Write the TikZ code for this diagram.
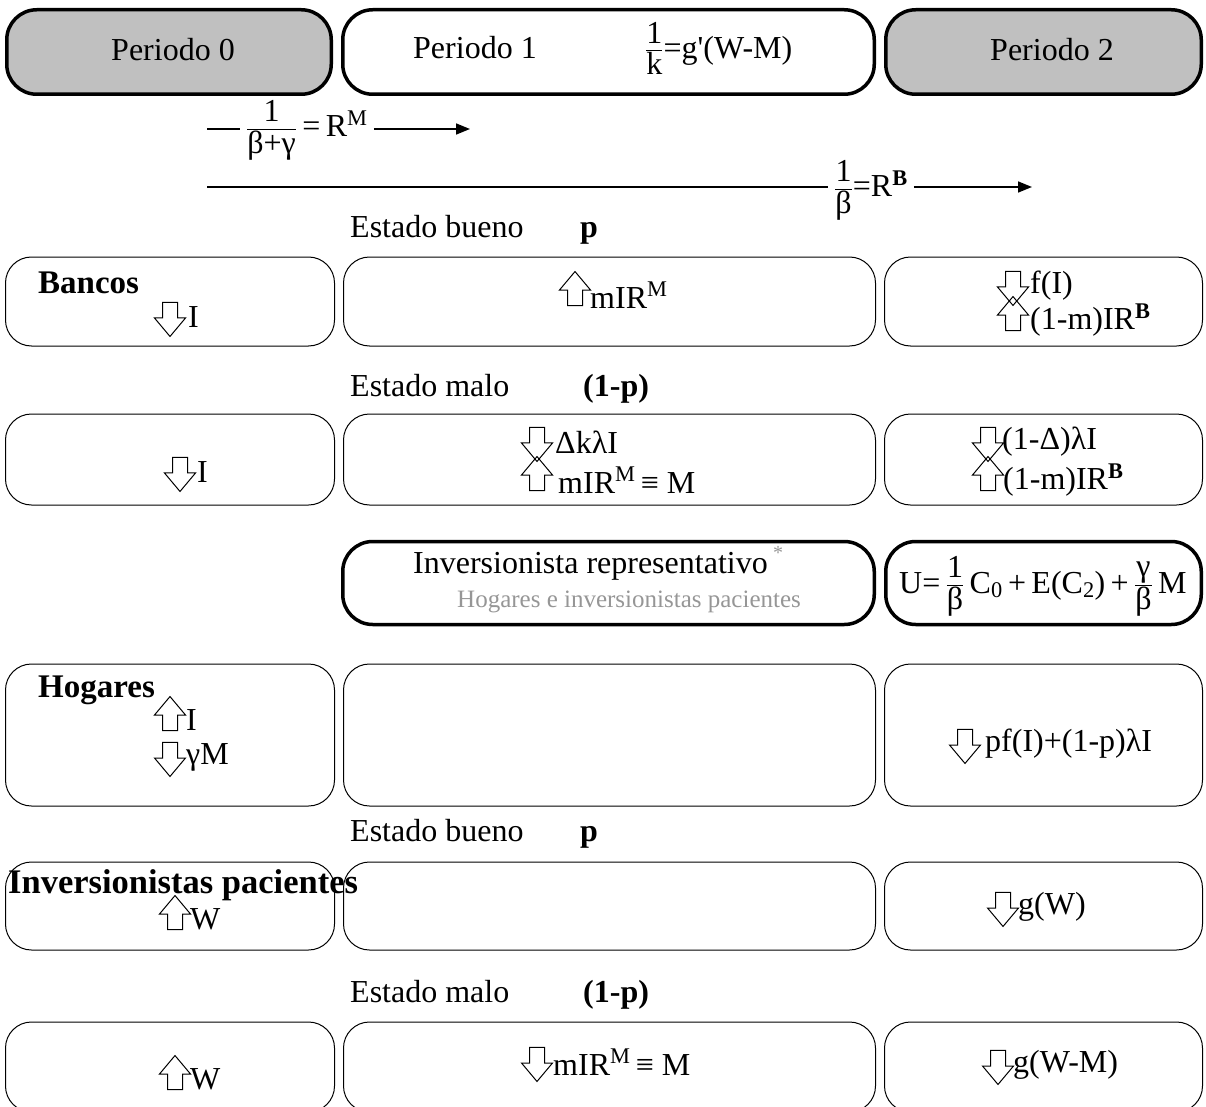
\RequirePackage{fix-cm}
\documentclass[tikz,border=0pt]{standalone}
\usepackage{amsmath}
\usepackage{fontspec}
\setmainfont{Liberation Serif}
\usetikzlibrary{shapes.arrows,arrows.meta}
\definecolor{pergray}{RGB}{192,192,192}
\definecolor{notegray}{RGB}{150,150,150}
\newcommand{\tfr}[2]{\ensuremath{\genfrac{}{}{}{1}{\mbox{\raisebox{3pt}{#1}}}{\mbox{\raisebox{-3pt}{#2}}}}}

\begin{document}
\begin{tikzpicture}[x=1pt, y=-1pt,
  every node/.style={font=\fontsize{32}{36}\selectfont},
  perbox/.style={draw, line width=3.5pt, rounded corners=30pt, inner sep=0pt, minimum height=84.5pt},
  rowbox/.style={draw, line width=1pt, rounded corners=26pt, inner sep=0pt},
  txt/.style={anchor=west, inner sep=0pt},
  who/.style={txt, font=\fontsize{33}{36}\selectfont\bfseries},
  blk/.style={draw, single arrow, minimum height=34pt, inner xsep=0pt, inner ysep=7pt,
    single arrow head extend=8pt, single arrow tip angle=80, line width=1pt},
  uparr/.style={blk, rotate=90},
  dnarr/.style={blk, rotate=-90},
  rate/.style={line width=1.6pt},
  ptr/.style={rate, -{Triangle[length=14pt, width=11pt]}}
]
  \useasboundingbox (0,0) rectangle (1206,1107);
  \clip (0,0) rectangle (1206,1107);

  % periods
  \node[perbox, fill=pergray, minimum width=324.5pt] (per0) at (169,52) {};
  \node[perbox, minimum width=531.5pt] (per1) at (608.5,52) {};
  \node[perbox, fill=pergray, minimum width=315.5pt] (per2) at (1043.5,52) {};
  \node (per0t) at (173,50) {Periodo 0};
  \node[txt] (per1t) at (413,48) {Periodo 1};
  \node[txt, anchor=base west] (per1f) at (645,59) {\tfr{1}{k}=g\textquotesingle(W-M)};
  \node (per2t) at (1052,50) {Periodo 2};

  % rates
  \coordinate (rm0) at (207,129);
  \coordinate (rm1) at (470,129);
  \node[anchor=base west, inner xsep=6pt] (rm) at (240,137)
    {\tfr{1}{β+γ}\,=\,R\textsuperscript{M}};
  \draw[rate] (rm0) -- (rm0 -| rm.west);
  \draw[ptr] (rm.east |- rm1) -- (rm1);
  \coordinate (rb0) at (207,187);
  \coordinate (rb1) at (1032,187);
  \node[anchor=base west, inner xsep=6pt] (rb) at (828,197)
    {\tfr{1}{β}=R\textsuperscript{\textbf{B}}};
  \draw[rate] (rb0) -- (rb0 -| rb.west);
  \draw[ptr] (rb.east |- rb1) -- (rb1);

  % states
  \foreach \n/\y in {1/237, 2/841} {
    \node[txt, anchor=base west] (bue\n) at (350,\y) {Estado bueno};
    \node[txt, anchor=base west] (pb\n) at (580,\y) {\textbf{p}};
  }
  \foreach \n/\y in {1/396, 2/1002} {
    \node[txt, anchor=base west] (mal\n) at (350,\y) {Estado malo};
    \node[txt, anchor=base west] (pm\n) at (583,\y) {\textbf{(1-p)}};
  }

  % row boxes
  \foreach \r/\y/\h in {1/301.5/89pt, 2/459.5/91pt, 4/735/142pt, 5/906/88pt, 6/1067/90pt} {
    \node[rowbox, minimum width=329pt, minimum height=\h] (bxA\r) at (170,\y) {};
    \node[rowbox, minimum width=532pt, minimum height=\h] (bxB\r) at (609.5,\y) {};
    \node[rowbox, minimum width=318pt, minimum height=\h] (bxC\r) at (1043.5,\y) {};
  }
  \node[perbox, minimum width=531.5pt, minimum height=83pt] (inv) at (608.5,583) {};
  \node[perbox, minimum width=315.5pt, minimum height=83pt] (util) at (1043.5,583) {};

  % agents
  \node[who] (bancos) at (38,283) {Bancos};
  \node[who] (hogares) at (38,690) {Hogares};
  \node[who, font=\fontsize{34.5}{38}\selectfont\bfseries] (pacientes) at (8,885) {Inversionistas pacientes};
  \node[txt] (invt) at (413,566) {Inversionista representativo};
  \node[txt, text=notegray, font=\fontsize{20}{22}\selectfont] (star) at (773,553) {*};
  \node[txt, text=notegray, font=\fontsize{25}{28}\selectfont] (invs) at (457,602)
    {Hogares e inversionistas pacientes};
  \node[anchor=base west, inner sep=0pt] (utilt) at (899,593)
    {U=\,\tfr{1}{β}\,C\textsubscript{0}\,+\,E(C\textsubscript{2})\,+\,\tfr{γ}{β}\,M};

  % flows out
  \foreach \n/\x/\y/\dx/\t in {
    a/170/315/18/{I},
    b/1013/284/17/{f(I)},
    c/180/470/17/{I},
    d/537/440/18/{ΔkλI},
    e/988/440/14/{(1-Δ)λI},
    f/170/755/16/{γM},
    g/965/742/20/{pf(I)+(1-p)λI},
    h/1003/905/15/{g(W)},
    i/537/1060/16/{mIR\textsuperscript{M}\,≡ M},
    j/998/1063/15/{g(W-M)}} {
    \node[dnarr] (dn\n) at (\x,\y) {};
    \node[txt] (tdn\n) at (\x+\dx,\y+2) {\t};
  }
  % flows in
  \foreach \n/\x/\y/\dx/\t in {
    a/575/293/15/{mIR\textsuperscript{M}},
    b/1013/318/17/{(1-m)IR\textsuperscript{\textbf{B}}},
    c/537/478/21/{mIR\textsuperscript{M}\,≡ M},
    d/988/478/15/{(1-m)IR\textsuperscript{\textbf{B}}},
    e/170/718/16/{I},
    f/175/917/15/{W},
    g/175/1077/15/{W}} {
    \node[uparr] (up\n) at (\x,\y) {};
    \node[txt] (tup\n) at (\x+\dx,\y+2) {\t};
  }
\end{tikzpicture}
\end{document}
